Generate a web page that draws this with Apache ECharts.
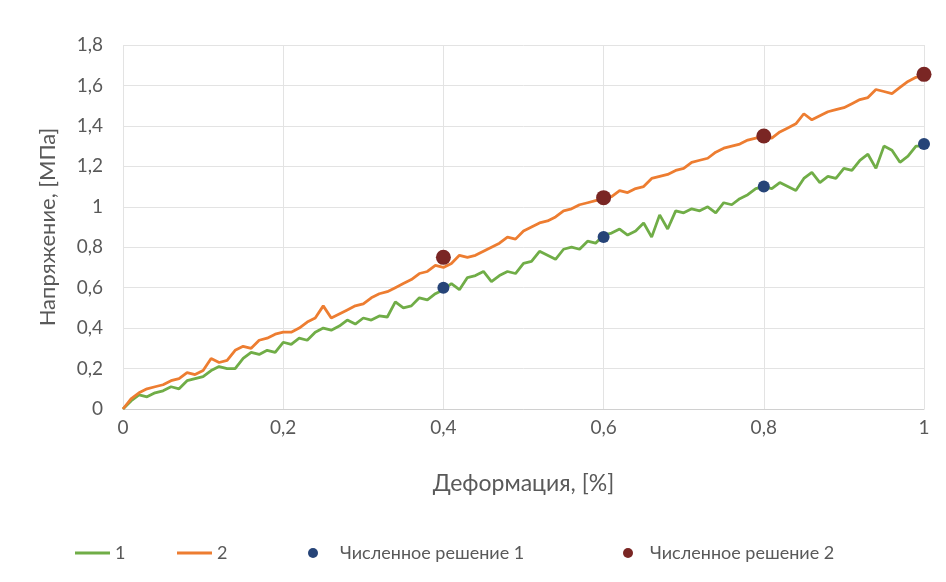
<!DOCTYPE html>
<html>
<head>
<meta charset="utf-8">
<script src="https://cdn.jsdelivr.net/npm/echarts@6/dist/echarts.min.js"></script>
<style>
  html, body { margin: 0; padding: 0; background: #ffffff; }
  #chart { width: 946px; height: 582px; }
</style>
</head>
<body>
<div id="chart"></div>
<script>
// Strain values, %, sampled every 0.01
const strain = [
  0.00, 0.01, 0.02, 0.03, 0.04, 0.05, 0.06, 0.07, 0.08, 0.09,
  0.10, 0.11, 0.12, 0.13, 0.14, 0.15, 0.16, 0.17, 0.18, 0.19,
  0.20, 0.21, 0.22, 0.23, 0.24, 0.25, 0.26, 0.27, 0.28, 0.29,
  0.30, 0.31, 0.32, 0.33, 0.34, 0.35, 0.36, 0.37, 0.38, 0.39,
  0.40, 0.41, 0.42, 0.43, 0.44, 0.45, 0.46, 0.47, 0.48, 0.49,
  0.50, 0.51, 0.52, 0.53, 0.54, 0.55, 0.56, 0.57, 0.58, 0.59,
  0.60, 0.61, 0.62, 0.63, 0.64, 0.65, 0.66, 0.67, 0.68, 0.69,
  0.70, 0.71, 0.72, 0.73, 0.74, 0.75, 0.76, 0.77, 0.78, 0.79,
  0.80, 0.81, 0.82, 0.83, 0.84, 0.85, 0.86, 0.87, 0.88, 0.89,
  0.90, 0.91, 0.92, 0.93, 0.94, 0.95, 0.96, 0.97, 0.98, 0.99,
  1.00
];

// Measured stress, MPa — specimen 1
const stress1 = [
  0.00, 0.04, 0.07, 0.06, 0.08, 0.09, 0.11, 0.10, 0.14, 0.15,
  0.16, 0.19, 0.21, 0.20, 0.20, 0.25, 0.28, 0.27, 0.29, 0.28,
  0.33, 0.32, 0.35, 0.34, 0.38, 0.40, 0.39, 0.41, 0.44, 0.42,
  0.45, 0.44, 0.46, 0.455, 0.53, 0.50, 0.51, 0.55, 0.54, 0.57,
  0.59, 0.62, 0.59, 0.65, 0.66, 0.68, 0.63, 0.66, 0.68, 0.67,
  0.72, 0.73, 0.78, 0.76, 0.74, 0.79, 0.80, 0.79, 0.83, 0.82,
  0.86, 0.87, 0.89, 0.86, 0.88, 0.92, 0.85, 0.96, 0.89, 0.98,
  0.97, 0.99, 0.98, 1.00, 0.97, 1.02, 1.01, 1.04, 1.06, 1.09,
  1.10, 1.09, 1.12, 1.10, 1.08, 1.14, 1.17, 1.12, 1.15, 1.14,
  1.19, 1.18, 1.23, 1.26, 1.19, 1.30, 1.28, 1.22, 1.25, 1.30,
  1.30
];

// Measured stress, MPa — specimen 2
const stress2 = [
  0.00, 0.05, 0.08, 0.10, 0.11, 0.12, 0.14, 0.15, 0.18, 0.17,
  0.19, 0.25, 0.23, 0.24, 0.29, 0.31, 0.30, 0.34, 0.35, 0.37,
  0.38, 0.38, 0.40, 0.43, 0.45, 0.51, 0.45, 0.47, 0.49, 0.51,
  0.52, 0.55, 0.57, 0.58, 0.60, 0.62, 0.64, 0.67, 0.68, 0.71,
  0.70, 0.72, 0.76, 0.75, 0.76, 0.78, 0.80, 0.82, 0.85, 0.84,
  0.88, 0.90, 0.92, 0.93, 0.95, 0.98, 0.99, 1.01, 1.02, 1.03,
  1.04, 1.05, 1.08, 1.07, 1.09, 1.10, 1.14, 1.15, 1.16, 1.18,
  1.19, 1.22, 1.23, 1.24, 1.27, 1.29, 1.30, 1.31, 1.33, 1.34,
  1.35, 1.34, 1.37, 1.39, 1.41, 1.46, 1.43, 1.45, 1.47, 1.48,
  1.49, 1.51, 1.53, 1.54, 1.58, 1.57, 1.56, 1.59, 1.62, 1.64,
  1.65
];

// Numerical solutions
const numStrain = [0.4, 0.6, 0.8, 1.0];
const numStress1 = [0.60, 0.85, 1.10, 1.31];
const numStress2 = [0.75, 1.045, 1.35, 1.655];

const seriesNames = ['1', '2', 'Численное решение 1', 'Численное решение 2'];
const xAxisTitle = 'Деформация, [%]';
const yAxisTitle = 'Напряжение, [МПа]';

const pairs = (xs, ys) => xs.map((x, i) => [x, ys[i]]);
const fmt = v => String(parseFloat(v.toFixed(2))).replace('.', ',');

const FONT = 'Lato, "Open Sans", sans-serif';
const TEXT = '#595959';
const GREEN = '#70ad47';
const ORANGE = '#ed7d31';
const BLUE = '#264478';
const MAROON = '#7a2624';

const chart = echarts.init(document.getElementById('chart'), null, { renderer: 'canvas' });

const legendBase = {
  top: 539,
  itemGap: 0,
  textStyle: { color: TEXT, fontFamily: FONT, fontSize: 18 },
  selectedMode: false
};

chart.setOption({
  animation: false,
  backgroundColor: '#ffffff',
  grid: { left: 123, right: 22, top: 45, bottom: 173, containLabel: false },
  xAxis: {
    type: 'value',
    min: 0, max: 1, interval: 0.2,
    name: xAxisTitle,
    nameLocation: 'middle',
    nameGap: 63,
    nameTextStyle: { color: TEXT, fontFamily: FONT, fontSize: 23 },
    axisLine: { show: true, lineStyle: { color: '#d0d0d0', width: 1 } },
    axisTick: { show: false },
    axisLabel: { color: TEXT, fontFamily: FONT, fontSize: 19, margin: 9, formatter: fmt },
    splitLine: { show: true, lineStyle: { color: '#e3e3e3', width: 1 } }
  },
  yAxis: {
    type: 'value',
    min: 0, max: 1.8, interval: 0.2,
    name: yAxisTitle,
    nameLocation: 'middle',
    nameGap: 64,
    nameRotate: 90,
    nameTextStyle: { color: TEXT, fontFamily: FONT, fontSize: 22 },
    axisLine: { show: false },
    axisTick: { show: false },
    axisLabel: { color: TEXT, fontFamily: FONT, fontSize: 19, margin: 20, formatter: fmt },
    splitLine: { show: true, lineStyle: { color: '#e3e3e3', width: 1 } }
  },
  legend: [
    Object.assign({}, legendBase, {
      left: 70, data: [{ name: seriesNames[0], icon: 'rect' }],
      itemWidth: 35, itemHeight: 3
    }),
    Object.assign({}, legendBase, {
      left: 172, data: [{ name: seriesNames[1], icon: 'rect' }],
      itemWidth: 35, itemHeight: 3
    }),
    Object.assign({}, legendBase, {
      left: 303, data: [{ name: seriesNames[2], icon: 'circle' }],
      itemWidth: 44, itemHeight: 10
    }),
    Object.assign({}, legendBase, {
      left: 618, data: [{ name: seriesNames[3], icon: 'circle' }],
      itemWidth: 34, itemHeight: 10
    })
  ],
  series: [
    {
      name: seriesNames[0],
      type: 'line',
      data: pairs(strain, stress1),
      showSymbol: false,
      symbol: 'none',
      lineStyle: { color: GREEN, width: 2.8 },
      itemStyle: { color: GREEN },
      z: 2
    },
    {
      name: seriesNames[1],
      type: 'line',
      data: pairs(strain, stress2),
      showSymbol: false,
      symbol: 'none',
      lineStyle: { color: ORANGE, width: 2.8 },
      itemStyle: { color: ORANGE },
      z: 3
    },
    {
      name: seriesNames[2],
      type: 'scatter',
      data: pairs(numStrain, numStress1),
      symbol: 'circle',
      symbolSize: 12,
      itemStyle: { color: BLUE, opacity: 1 },
      clip: false,
      z: 5
    },
    {
      name: seriesNames[3],
      type: 'scatter',
      data: pairs(numStrain, numStress2),
      symbol: 'circle',
      symbolSize: 15,
      itemStyle: { color: MAROON, opacity: 1 },
      clip: false,
      z: 5
    }
  ]
});
</script>
</body>
</html>
